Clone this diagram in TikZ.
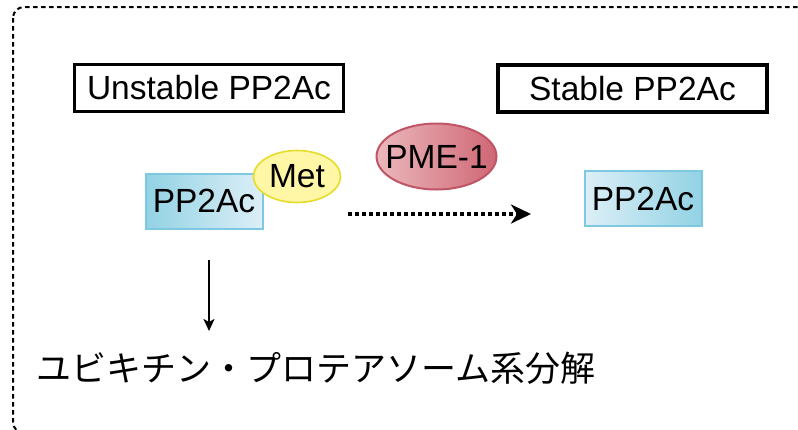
\documentclass[tikz,border=0pt]{standalone}
\usepackage{fontspec}
\setmainfont{Liberation Sans}
\newfontfamily\jpfont{Noto Sans CJK JP}
\usepackage{tikz}
\usetikzlibrary{arrows.meta,shapes.geometric}
\definecolor{protedge}{HTML}{7EC8E3}
\definecolor{protdark}{HTML}{92D2E4}
\definecolor{protlight}{HTML}{DCEFF7}
\definecolor{metfill}{HTML}{FFF6A6}
\definecolor{metedge}{HTML}{E6DC2A}
\definecolor{pmelight}{HTML}{EBB8BC}
\definecolor{pmedark}{HTML}{CF6775}
\definecolor{pmeedge}{HTML}{BF5565}

\begin{document}
\begin{tikzpicture}[x=1pt,y=-1pt,
  label box/.style={draw=black,line width=3.2pt,minimum width=269pt,minimum height=47pt,inner sep=0pt},
  protein/.style={draw=protedge,line width=2pt,minimum width=117pt,minimum height=55pt,inner sep=0pt},
  txt/.style={font=\fontsize{33.5}{40}\selectfont}]
\useasboundingbox (0,0) rectangle (798,429);
\clip (0,0) rectangle (798,429);

% frame
\draw[dash pattern=on 4.5pt off 3.5pt,line width=2pt,rounded corners=11pt]
  (13,7) rectangle (900,433);

% labels
\node[label box,txt] (unstable) at (209,88) {Unstable PP2Ac};
\node[label box,txt] (stable) at (632.5,88.5) {Stable PP2Ac};

% unstable PP2Ac with Met
\node[protein,txt,left color=protdark,right color=protlight] (upp) at (204,201) {PP2Ac};
\node[ellipse,draw=metedge,line width=1.6pt,fill=metfill,minimum width=87pt,minimum height=52pt,inner sep=0pt,txt]
  (met) at (297,176.5) {Met};

% PME-1
\node[ellipse,draw=pmeedge,line width=2pt,left color=pmelight,right color=pmedark,minimum width=120pt,minimum height=66pt,inner xsep=-12pt,inner ysep=0pt,txt]
  (pme) at (436.5,156.5) {PME-1};

% stable PP2Ac
\node[protein,txt,left color=protlight,right color=protdark] (spp) at (643,198.5) {PP2Ac};

% degradation
\node[font=\jpfont\fontsize{35}{40}\selectfont,inner sep=0pt] (ups) at (316,368) {ユビキチン・プロテアソーム系分解};

% arrows
\coordinate (dstart) at (348,214);
\coordinate (dend) at (531,214);
\draw[line width=3.6pt,dash pattern=on 3.6pt off 3.4pt,-{Stealth[length=20pt,width=19pt,inset=6pt]}]
  (dstart) -- (dend);
\coordinate (down top) at (209,260);
\coordinate (down tip) at (209,331);
\draw[line width=2.4pt,-{Stealth[length=12pt,width=11pt,inset=3pt]}] (down top) -- (down tip);

\end{tikzpicture}
\end{document}
